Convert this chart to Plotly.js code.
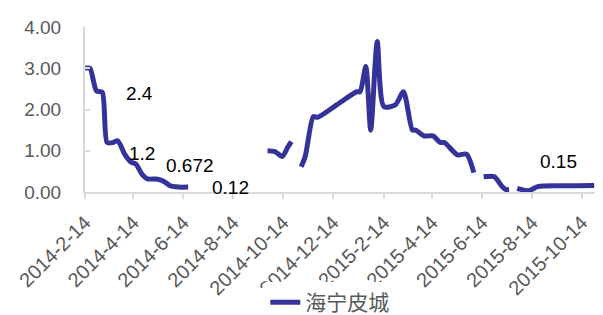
<!DOCTYPE html>
<html>
<head>
<meta charset="utf-8">
<script src="https://cdn.plot.ly/plotly-3.0.1.min.js"></script>
<style>html,body{margin:0;padding:0;background:#fff;}#chart{width:603px;height:315px;}</style>
</head>
<body>
<div id="chart"></div>
<script>
const seriesName = '海宁皮城';
const dates = [
  '2014-02-14','2014-02-20','2014-02-28','2014-03-07','2014-03-13','2014-03-20','2014-03-26','2014-04-04','2014-04-11','2014-04-17','2014-04-25','2014-05-01','2014-05-14','2014-05-22','2014-05-29','2014-06-08','2014-06-20',
  '2014-08-01',
  '2014-09-25','2014-10-04','2014-10-13','2014-10-19','2014-10-24',
  '2014-10-30',
  '2014-11-05','2014-11-10','2014-11-20','2014-11-25','2014-12-19','2015-01-12','2015-01-16','2015-01-23','2015-01-29','2015-02-06','2015-02-14','2015-02-28','2015-03-10','2015-03-21','2015-03-25','2015-04-04','2015-04-15','2015-04-24','2015-04-29','2015-05-15','2015-05-26','2015-06-04',
  '2015-06-10',
  '2015-06-16','2015-06-29','2015-07-09','2015-07-13','2015-07-17',
  '2015-07-22',
  '2015-07-27','2015-08-10','2015-08-21','2015-09-18','2015-10-29'
];
const values = [
  3.0,3.0,2.45,2.42,1.2,1.2,1.24,0.9,0.73,0.68,0.42,0.32,0.31,0.25,0.15,0.12,0.12,
  null,
  1.0,0.98,0.86,1.06,1.22,
  null,
  0.61,0.86,1.83,1.81,2.12,2.43,2.43,3.04,1.5,3.65,2.07,2.11,2.43,1.5,1.5,1.36,1.36,1.2,1.2,0.9,0.92,0.47,
  null,
  0.37,0.37,0.12,0.06,0.06,
  null,
  0.09,0.03,0.13,0.15,0.16
];
const tickDates = ['2014-02-14','2014-04-14','2014-06-14','2014-08-14','2014-10-14','2014-12-14','2015-02-14','2015-04-14','2015-06-14','2015-08-14','2015-10-14'];
const tickLabels = ['2014-2-14','2014-4-14','2014-6-14','2014-8-14','2014-10-14','2014-12-14','2015-2-14','2015-4-14','2015-6-14','2015-8-14','2015-10-14'];
const labelTexts = ['2.4','1.2','0.672','0.12','0.15'];
const labelDates = ['2014-04-22','2014-04-25','2014-06-22','2014-08-11','2015-09-15'];
const labelLevels = [2.4,0.94,0.65,0.11,0.75];

const trace = {
  x: dates, y: values, type: 'scatter', mode: 'lines', name: seriesName,
  connectgaps: false,
  line: {color: '#333399', width: 5, shape: 'spline', smoothing: 0.7}
};
const annotations = labelTexts.map((t, i) => ({
  x: labelDates[i], y: labelLevels[i], xref: 'x', yref: 'y', text: t, showarrow: false,
  font: {family: 'Liberation Sans, Arial, sans-serif', size: 19, color: '#000000'}
}));
const layout = {
  width: 603, height: 315,
  margin: {l: 85, r: 8, t: 27, b: 123, autoexpand: false},
  paper_bgcolor: '#ffffff', plot_bgcolor: '#ffffff',
  font: {family: 'Liberation Sans, Arial, sans-serif', size: 19, color: '#595959'},
  showlegend: true,
  legend: {orientation: 'h', x: 0.48, xanchor: 'center', y: -0.67, yanchor: 'middle',
           font: {family: 'Noto Sans CJK SC, sans-serif', size: 21, color: '#595959'}},
  xaxis: {
    type: 'date', range: ['2014-02-14', '2015-10-30'], automargin: false,
    tickvals: tickDates, ticktext: tickLabels, tickangle: -45,
    showgrid: false, zeroline: false, showline: true, linecolor: '#d9d9d9', linewidth: 2,
    ticks: 'outside', ticklen: 5, tickcolor: '#d9d9d9', tickwidth: 2, ticklabelstandoff: 4,
    tickfont: {size: 20, color: '#595959'}
  },
  yaxis: {
    range: [0, 4], automargin: false, tickvals: [0,1,2,3,4], ticktext: ['0.00','1.00','2.00','3.00','4.00'],
    showgrid: false, zeroline: false, showline: true, linecolor: '#d9d9d9', linewidth: 2,
    ticks: 'inside', ticklen: 5, tickcolor: '#d9d9d9', tickwidth: 2, ticklabelstandoff: 18,
    tickfont: {size: 19, color: '#595959'}
  },
  annotations: annotations
};
Plotly.newPlot('chart', [trace], layout, {displayModeBar: false, staticPlot: true});
</script>
</body>
</html>
